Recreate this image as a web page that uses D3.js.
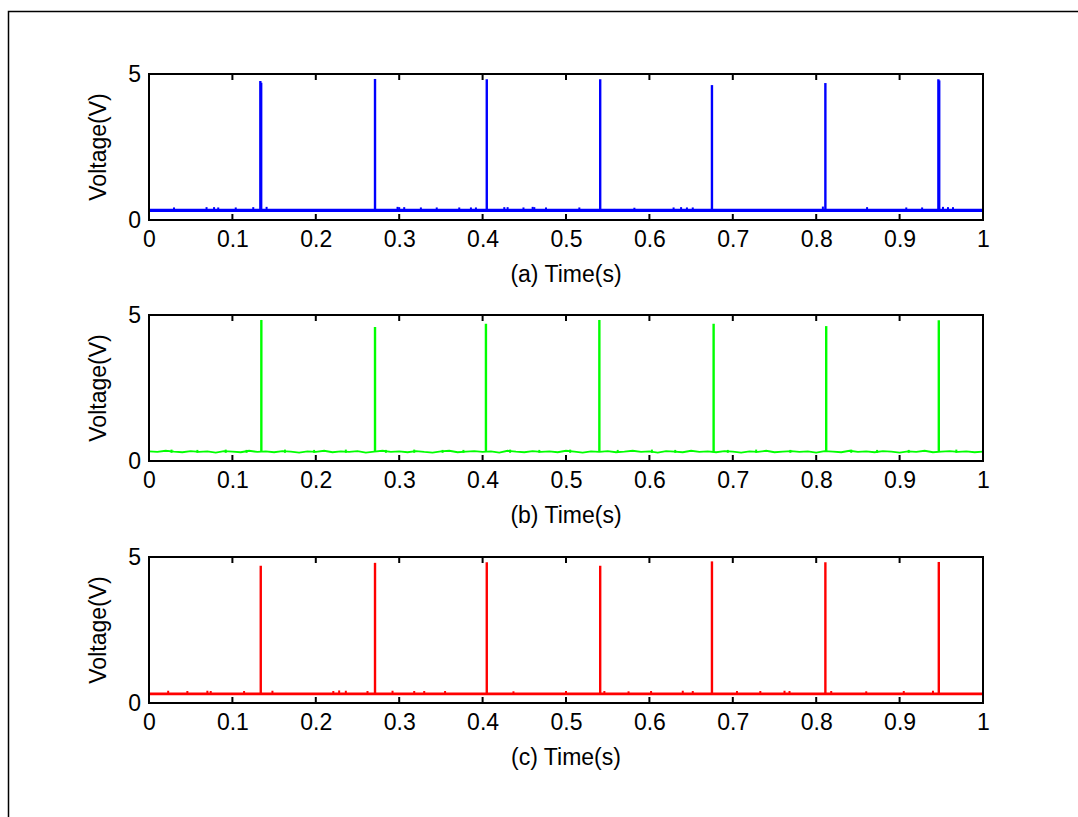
<!DOCTYPE html>
<html>
<head>
<meta charset="utf-8">
<script src="https://cdn.jsdelivr.net/npm/d3@7/dist/d3.min.js"></script>
<style>
  body { margin: 0; background: #fff; }
  text { font-family: "Liberation Sans", Arial, sans-serif; fill: #000; }
</style>
</head>
<body>
<div id="viz"></div>
<script>
const width = 1078;
const height = 817;
const margin = {left: 149, right: 95};
const panelHeight = 146;
const panelTops = [74, 315, 557];
const fontSize = '23px';

// Axis ticks
const timeTicks = [0, 0.1, 0.2, 0.3, 0.4, 0.5, 0.6, 0.7, 0.8, 0.9, 1];
const timeTickLabels = ['0', '0.1', '0.2', '0.3', '0.4', '0.5', '0.6', '0.7', '0.8', '0.9', '1'];
const voltTicks = [0, 5];
const voltTickLabels = ['0', '5'];
const panelLabels = ['(a) Time(s)', '(b) Time(s)', '(c) Time(s)'];
const colors = ['#0000ff', '#00ff00', '#ff0000'];

// (a) blue
const baselineA = 0.33;
const spikeTimesA = [0.1335, 0.1345, 0.271, 0.405, 0.541, 0.675, 0.811, 0.9465, 0.9475];
const spikePeaksA = [4.76, 4.70, 4.83, 4.82, 4.82, 4.62, 4.69, 4.82, 4.78];
const bumpTimesA = [0.030, 0.069, 0.078, 0.083, 0.104, 0.125, 0.141, 0.298, 0.300, 0.306, 0.326,
  0.345, 0.372, 0.386, 0.392, 0.426, 0.430, 0.449, 0.460, 0.462, 0.476, 0.516, 0.582, 0.629,
  0.638, 0.645, 0.652, 0.808, 0.861, 0.908, 0.927, 0.952, 0.958, 0.964];
const bumpPeaksA = [0.43, 0.44, 0.44, 0.43, 0.43, 0.44, 0.45, 0.45, 0.44, 0.44, 0.43,
  0.43, 0.43, 0.43, 0.43, 0.44, 0.44, 0.43, 0.45, 0.44, 0.43, 0.43, 0.42, 0.43,
  0.44, 0.43, 0.43, 0.46, 0.44, 0.43, 0.43, 0.45, 0.44, 0.44];

// (b) green, baseline sampled every 0.01 s
const spikeTimesB = [0.1347, 0.271, 0.404, 0.540, 0.677, 0.812, 0.947];
const spikePeaksB = [4.83, 4.59, 4.70, 4.83, 4.70, 4.62, 4.82];
const baselineB = [0.33, 0.31, 0.35, 0.32, 0.30, 0.34, 0.31, 0.33, 0.29, 0.34,
  0.32, 0.30, 0.35, 0.31, 0.33, 0.30, 0.34, 0.32, 0.29, 0.33,
  0.31, 0.35, 0.30, 0.33, 0.31, 0.34, 0.29, 0.32, 0.35, 0.31,
  0.33, 0.30, 0.34, 0.31, 0.29, 0.33, 0.35, 0.30, 0.32, 0.34,
  0.31, 0.33, 0.29, 0.35, 0.32, 0.30, 0.34, 0.31, 0.33, 0.30,
  0.35, 0.32, 0.29, 0.33, 0.31, 0.34, 0.30, 0.32, 0.35, 0.31,
  0.33, 0.29, 0.34, 0.32, 0.30, 0.35, 0.31, 0.33, 0.30, 0.34,
  0.32, 0.29, 0.33, 0.31, 0.35, 0.30, 0.32, 0.34, 0.31, 0.33,
  0.29, 0.34, 0.32, 0.30, 0.35, 0.31, 0.33, 0.30, 0.34, 0.32,
  0.29, 0.33, 0.31, 0.35, 0.30, 0.32, 0.34, 0.31, 0.33, 0.30, 0.32];
const bumpTimesB = [0.027, 0.058, 0.092, 0.117, 0.163, 0.198, 0.236, 0.284, 0.318, 0.352,
  0.377, 0.433, 0.468, 0.505, 0.562, 0.603, 0.631, 0.694, 0.728, 0.769, 0.842, 0.873,
  0.911, 0.968];
const bumpPeaksB = [0.39, 0.38, 0.39, 0.38, 0.39, 0.38, 0.39, 0.38, 0.39, 0.38,
  0.38, 0.39, 0.38, 0.39, 0.38, 0.39, 0.38, 0.38, 0.39, 0.38, 0.39, 0.38,
  0.38, 0.39];

// (c) red
const baselineC = 0.31;
const spikeTimesC = [0.134, 0.271, 0.405, 0.541, 0.675, 0.811, 0.947];
const spikePeaksC = [4.70, 4.80, 4.82, 4.70, 4.85, 4.82, 4.83];
const bumpTimesC = [0.023, 0.046, 0.070, 0.074, 0.114, 0.148, 0.221, 0.228, 0.236, 0.262,
  0.292, 0.318, 0.330, 0.355, 0.437, 0.500, 0.546, 0.575, 0.602, 0.640, 0.652, 0.705,
  0.733, 0.762, 0.768, 0.818, 0.860, 0.905, 0.940];
const bumpPeaksC = [0.42, 0.41, 0.42, 0.41, 0.41, 0.42, 0.41, 0.43, 0.42, 0.41,
  0.42, 0.41, 0.41, 0.41, 0.40, 0.41, 0.41, 0.40, 0.41, 0.42, 0.41, 0.41,
  0.41, 0.42, 0.41, 0.41, 0.40, 0.41, 0.42];

const panels = [
  {base: timeTicks.map(t => ({t, v: baselineA})), baseWidth: 3.2,
    spikes: spikeTimesA.map((t, i) => ({t, v: spikePeaksA[i], b: baselineA})),
    bumps: bumpTimesA.map((t, i) => ({t, v: bumpPeaksA[i], b: baselineA}))},
  {base: baselineB.map((v, i) => ({t: i / 100, v})), baseWidth: 1.8,
    spikes: spikeTimesB.map((t, i) => ({t, v: spikePeaksB[i], b: baselineB[Math.round(t * 100)]})),
    bumps: bumpTimesB.map((t, i) => ({t, v: bumpPeaksB[i], b: 0.28}))},
  {base: timeTicks.map(t => ({t, v: baselineC})), baseWidth: 2.8,
    spikes: spikeTimesC.map((t, i) => ({t, v: spikePeaksC[i], b: baselineC})),
    bumps: bumpTimesC.map((t, i) => ({t, v: bumpPeaksC[i], b: baselineC}))}
];

const svg = d3.select('#viz')
  .append('svg')
    .attr('width', width)
    .attr('height', height);

// outer frame
svg.append('rect')
  .attr('x', 8.5)
  .attr('y', 11.5)
  .attr('width', width + 20)
  .attr('height', height + 20)
  .attr('fill', 'none')
  .attr('stroke', '#000')
  .attr('stroke-width', 1.5);

const x = d3.scaleLinear()
  .domain([0, 1])
  .range([margin.left, width - margin.right]);

panels.forEach((panel, p) => {
  const top = panelTops[p];
  const y = d3.scaleLinear()
    .domain([0, 5])
    .range([top + panelHeight, top]);
  const g = svg.append('g').attr('class', `panel panel-${p}`);

  const line = d3.line()
    .x(d => x(d.t))
    .y(d => y(d.v));

  // baseline trace
  g.append('path')
    .attr('d', line(panel.base))
    .attr('fill', 'none')
    .attr('stroke', colors[p])
    .attr('stroke-width', panel.baseWidth);

  // small bumps
  g.selectAll('.bump')
    .data(panel.bumps)
    .join('line')
      .attr('class', 'bump')
      .attr('x1', d => x(d.t))
      .attr('x2', d => x(d.t))
      .attr('y1', d => y(d.b))
      .attr('y2', d => y(d.v))
      .attr('stroke', colors[p])
      .attr('stroke-width', 2);

  // spikes
  g.selectAll('.spike')
    .data(panel.spikes)
    .join('line')
      .attr('class', 'spike')
      .attr('x1', d => x(d.t))
      .attr('x2', d => x(d.t))
      .attr('y1', d => y(d.b))
      .attr('y2', d => y(d.v))
      .attr('stroke', colors[p])
      .attr('stroke-width', 2.4);

  // axes (ticks drawn inward below, MATLAB style)
  const bottomAxis = d3.axisBottom(x).tickValues(timeTicks).tickSize(0)
    .tickFormat((d, i) => timeTickLabels[i]).tickPadding(11);
  g.append('g')
    .attr('transform', `translate(0, ${top + panelHeight})`)
    .call(bottomAxis)
    .call(a => a.select('.domain').remove())
    .selectAll('text')
      .style('font-size', fontSize)
      .style('font-family', '"Liberation Sans", Arial, sans-serif');

  const leftAxis = d3.axisLeft(y).tickValues(voltTicks).tickSize(0).tickPadding(8)
    .tickFormat((d, i) => voltTickLabels[i]);
  g.append('g')
    .attr('transform', `translate(${margin.left}, 0)`)
    .call(leftAxis)
    .call(a => a.select('.domain').remove())
    .selectAll('text')
      .style('font-size', fontSize)
      .style('font-family', '"Liberation Sans", Arial, sans-serif');

  // inward tick marks on top and bottom
  g.selectAll('.tick-b')
    .data(timeTicks)
    .join('line')
      .attr('x1', d => x(d)).attr('x2', d => x(d))
      .attr('y1', top + panelHeight).attr('y2', top + panelHeight - 6)
      .attr('stroke', '#000').attr('stroke-width', 2);
  g.selectAll('.tick-t')
    .data(timeTicks)
    .join('line')
      .attr('x1', d => x(d)).attr('x2', d => x(d))
      .attr('y1', top).attr('y2', top + 6)
      .attr('stroke', '#000').attr('stroke-width', 2);

  // frame
  g.append('rect')
    .attr('x', x(0))
    .attr('y', top)
    .attr('width', x(1) - x(0))
    .attr('height', panelHeight)
    .attr('fill', 'none')
    .attr('stroke', '#000')
    .attr('stroke-width', 2);

  // labels
  g.append('text')
    .attr('x', (x(0) + x(1)) / 2)
    .attr('y', top + panelHeight + 62)
    .attr('text-anchor', 'middle')
    .style('font-size', fontSize)
    .text(panelLabels[p]);

  g.append('text')
    .attr('transform', `translate(106, ${top + panelHeight / 2}) rotate(-90)`)
    .attr('text-anchor', 'middle')
    .style('font-size', fontSize)
    .text('Voltage(V)');
});
</script>
</body>
</html>
